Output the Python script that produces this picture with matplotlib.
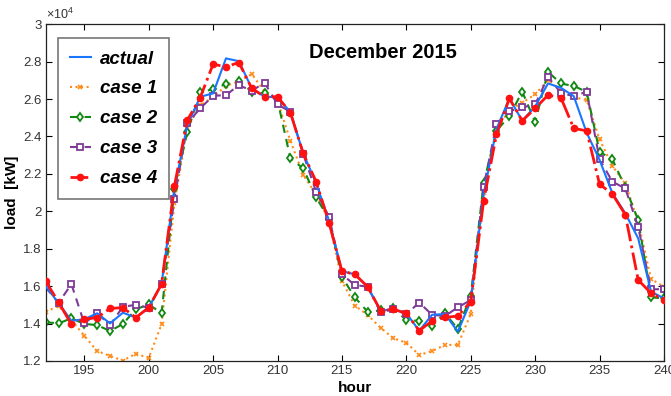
import matplotlib
matplotlib.use("Agg")
import matplotlib.pyplot as plt
import numpy as np

plt.rcParams['font.family'] = ['Liberation Sans', 'DejaVu Sans']
plt.rcParams['mathtext.fontset'] = 'custom'
plt.rcParams['mathtext.rm'] = 'Liberation Sans'

hours = list(range(192, 241))

actual = [16000, 15100, 14150, 14230, 14550, 14010, 14580, 14320, 14850, 16110,
          21200, 24600, 26120, 26300, 28170, 28020, 26570, 26120, 26100, 25300,
          23090, 21500, 19500, 16800, 16630, 15970, 14690, 14760, 14550, 13620,
          14470, 14510, 13570, 15200, 20900, 24400, 26030, 24840, 25600, 26830,
          26600, 26150, 24200, 22750, 20960, 19890, 18550, 15700, 15350]

case1 = [14630, 14940, 14200, 13350, 12530, 12270, 12020, 12390, 12160, 13960,
         20440, 24450, 25670, 26100, 26700, 26950, 27330, 26400, 25900, 23770,
         21940, 20900, 19500, 16270, 14960, 14460, 13780, 13210, 12980, 12320,
         12530, 12860, 12860, 14510, 21000, 24400, 25400, 25800, 26250, 27000,
         26450, 26100, 25940, 23840, 22420, 21490, 19440, 16380, 15970]

case2 = [14070, 14010, 14280, 13980, 13920, 13600, 13980, 14760, 15030, 14550,
         21190, 24250, 26350, 26530, 26800, 26970, 26390, 26300, 25940, 22830,
         22290, 20740, 19600, 16500, 15400, 14630, 14700, 14850, 14170, 14150,
         13890, 14550, 13710, 15470, 21490, 24300, 25090, 26390, 24780, 27450,
         26830, 26690, 26390, 23180, 22770, 21280, 19530, 15400, 15350]

case3 = [15940, 15100, 16110, 14010, 14550, 13920, 14900, 15000, 14850, 16110,
         20640, 24700, 25500, 26170, 26210, 26740, 26440, 26870, 25710, 25320,
         23050, 21040, 19710, 16630, 16060, 15970, 14600, 14760, 14500, 15120,
         14470, 14400, 14870, 15250, 21310, 24660, 25350, 25550, 25710, 27180,
         26330, 26150, 26390, 22790, 21580, 21220, 19170, 15830, 15840]

case4 = [16270, 15140, 13960, 14230, 14320, 14810, 14850, 14320, 14850, 16110,
         21360, 24870, 26080, 27860, 27720, 27950, 26570, 26120, 26120, 25270,
         23090, 21580, 19390, 16810, 16630, 15970, 14690, 14760, 14550, 13620,
         14140, 14330, 14400, 15170, 20550, 24110, 26030, 24840, 25500, 26210,
         26070, 24430, 24300, 21450, 20920, 19820, 16330, 15620, 15260]

series_names = ["actual", "case 1", "case 2", "case 3", "case 4"]
x_ticks = [195, 200, 205, 210, 215, 220, 225, 230, 235, 240]
y_ticks = [12000, 14000, 16000, 18000, 20000, 22000, 24000, 26000, 28000, 30000]
y_tick_labels = ["1.2", "1.4", "1.6", "1.8", "2", "2.2", "2.4", "2.6", "2.8", "3"]

fig = plt.figure(figsize=(6.71, 3.96), dpi=100)
ax = fig.add_axes([0.068, 0.0884, 0.9215, 0.8506])

ax.plot(hours, actual, color="#1a75ff", lw=1.5, ls="-", label=series_names[0], zorder=3)
ax.plot(hours, case1, color="#ff8c1a", lw=1.5, ls=":", marker="x", ms=3.5, mew=1.2,
        label=series_names[1], zorder=2)
ax.plot(hours, case2, color="#118811", lw=1.5, ls="--", marker="d", ms=4.5, mew=1.3,
        mfc="white", dashes=(4, 3), label=series_names[2], zorder=2)
ax.plot(hours, case3, color="#7e3a96", lw=1.5, ls="--", marker="s", ms=4, mew=1.3,
        mfc="white", dashes=(4, 3), label=series_names[3], zorder=2)
ax.plot(hours, case4, color="#ff1111", lw=2.0, ls="-.", marker="o", ms=4.5,
        label=series_names[4], zorder=4)

ax.set_xlim(192, 240)
ax.set_ylim(12000, 30000)
ax.set_xticks(x_ticks)
ax.set_yticks(y_ticks)
ax.set_yticklabels(y_tick_labels)
ax.tick_params(direction="in", top=True, right=True, labelsize=9.5,
               labelcolor="#333333", length=4, width=0.8, pad=3)
for s in ax.spines.values():
    s.set_linewidth(0.9)
    s.set_color("#222222")

ax.text(0.0, 1.005, r"$\times10^4$", transform=ax.transAxes, fontsize=9,
        color="#333333", ha="left", va="bottom")

ax.set_xlabel("hour", fontsize=11, fontweight="bold", labelpad=3)
ax.set_ylabel("load  [kW]", fontsize=11, fontweight="bold", labelpad=3)
ax.text(0.545, 0.915, "December 2015", transform=ax.transAxes, fontsize=14.5,
        fontweight="bold", ha="center", va="center")

leg = ax.legend(loc="upper left", bbox_to_anchor=(0.02, 0.958),
                prop={"family": "Liberation Sans", "weight": "bold",
                      "style": "italic", "size": 13.5},
                frameon=True, fancybox=False, edgecolor="#555555",
                handlelength=1.1, handletextpad=0.5, labelspacing=0.68,
                borderpad=0.65, borderaxespad=0)
leg.get_frame().set_linewidth(1.2)

fig.savefig("out.png", dpi=100)
